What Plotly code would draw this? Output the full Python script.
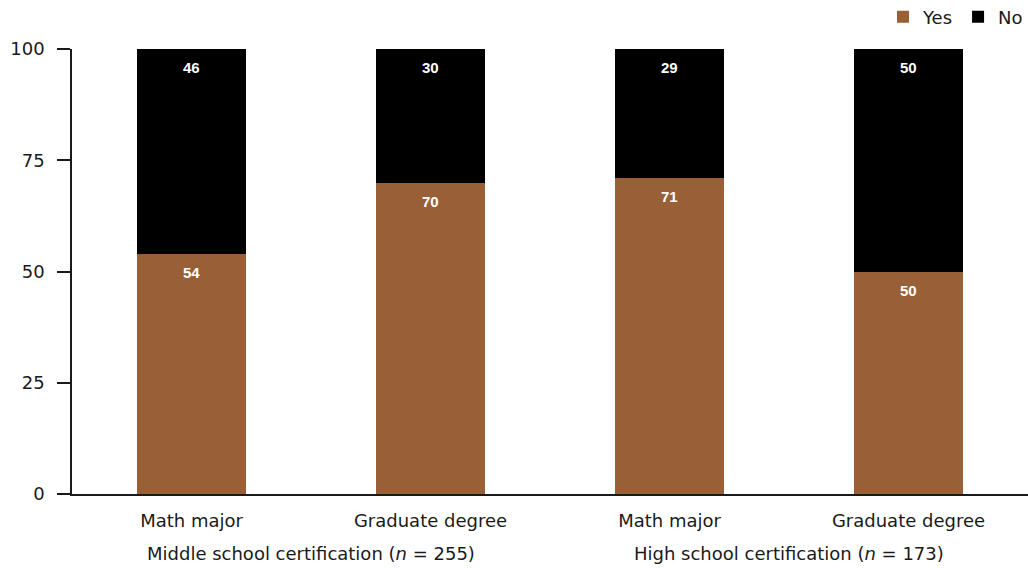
import plotly.graph_objects as go

# Survey shares (%) by certification level and credential
categories = ["Math major", "Graduate degree", "Math major", "Graduate degree"]
groups = ["Middle school certification (<i>n</i> = 255)", "High school certification (<i>n</i> = 173)"]
yes_values = [54, 70, 71, 50]
no_values = [46, 30, 29, 50]

BROWN = "#995f37"
FONT = "DejaVu Sans"
LABEL_FONT = "Liberation Sans"
INK = "#1a1a1a"

x_pos = list(range(len(categories)))

fig = go.Figure()
fig.add_trace(go.Bar(x=x_pos, y=yes_values, name="Yes", marker_color=BROWN, marker_line_width=0))
fig.add_trace(go.Bar(x=x_pos, y=no_values, name="No", marker_color="#000000", marker_line_width=0))

# Value labels just below the top of each segment
for i, (yv, nv) in enumerate(zip(yes_values, no_values)):
    for top, val in ((yv, yv), (yv + nv, nv)):
        fig.add_annotation(
            x=i, y=top, xref="x", yref="y", text=str(val), showarrow=False,
            yanchor="middle", yshift=-18.5,
            font=dict(size=15, color="white", family=LABEL_FONT, weight="bold"),
        )

for i, g in enumerate(groups):
    fig.add_annotation(
        x=2 * i + 0.5, y=-0.133, xref="x", yref="paper", text=g, showarrow=False,
        font=dict(size=18, color=INK, family=FONT), yanchor="middle",
    )

fig.update_layout(
    barmode="stack",
    bargap=0.548,
    width=1028, height=568,
    margin=dict(l=72, r=0, t=49, b=74, autoexpand=False),
    paper_bgcolor="white", plot_bgcolor="white",
    font=dict(family=FONT, size=18, color=INK),
    legend=dict(
        orientation="h", x=1.0, xanchor="right", y=1.072, yanchor="middle",
        font=dict(size=18), itemwidth=30, traceorder="normal",
        bgcolor="rgba(0,0,0,0)",
    ),
    xaxis=dict(
        tickmode="array", tickvals=x_pos, ticktext=categories,
        range=[-0.5, 3.5], showline=True, linecolor=INK, linewidth=1.5,
        ticks="", showgrid=False, zeroline=False, tickfont=dict(size=18),
        ticklabelstandoff=10,
    ),
    yaxis=dict(
        range=[0, 100], tickvals=[0, 25, 50, 75, 100],
        showline=True, linecolor=INK, linewidth=1.5,
        ticks="outside", ticklen=13, tickwidth=1.5, tickcolor=INK,
        showgrid=False, zeroline=False, tickfont=dict(size=18),
        ticklabelstandoff=9,
    ),
)

fig.write_html("out.html")
